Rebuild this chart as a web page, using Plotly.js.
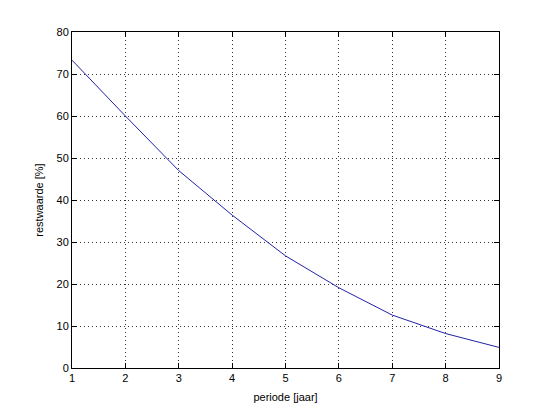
<!DOCTYPE html>
<html>
<head>
<meta charset="utf-8">
<script src="https://cdn.plot.ly/plotly-3.0.1.min.js"></script>
<style>html,body{margin:0;padding:0;background:#fff;}#chart{width:551px;height:413px;}</style>
</head>
<body>
<div id="chart"></div>
<script>
const periode = [1, 2, 3, 4, 5, 6, 7, 8, 9];
const restwaarde = [73.3, 60.0, 47.0, 36.4, 26.7, 19.1, 12.6, 8.2, 4.9];
const xTicks = [1, 2, 3, 4, 5, 6, 7, 8, 9];
const yTicks = [0, 10, 20, 30, 40, 50, 60, 70, 80];

const axisCommon = {
  showline: true, mirror: 'ticks', linecolor: '#000', linewidth: 1,
  ticks: 'inside', ticklen: 5, tickcolor: '#000',
  showgrid: true, gridcolor: '#333', gridwidth: 1, griddash: '1px,3px',
  zeroline: false,
  tickfont: {family: 'Liberation Sans, Arial, sans-serif', size: 11, color: '#000'}
};

Plotly.newPlot('chart', [{
  x: periode, y: restwaarde, type: 'scatter', mode: 'lines',
  line: {color: '#2222a8', width: 1}
}], {
  width: 551, height: 413,
  margin: {l: 72, r: 52, t: 32, b: 45},
  paper_bgcolor: '#fff', plot_bgcolor: '#fff',
  showlegend: false,
  xaxis: Object.assign({}, axisCommon, {
    range: [1, 9], tickvals: xTicks,
    title: {text: 'periode [jaar]', standoff: 10, font: {family: 'Liberation Sans, Arial, sans-serif', size: 11, color: '#000'}}
  }),
  yaxis: Object.assign({}, axisCommon, {
    range: [0, 80], tickvals: yTicks,
    title: {text: 'restwaarde [%]', standoff: 10, font: {family: 'Liberation Sans, Arial, sans-serif', size: 11, color: '#000'}}
  })
}, {displayModeBar: false, staticPlot: true});
</script>
</body>
</html>
